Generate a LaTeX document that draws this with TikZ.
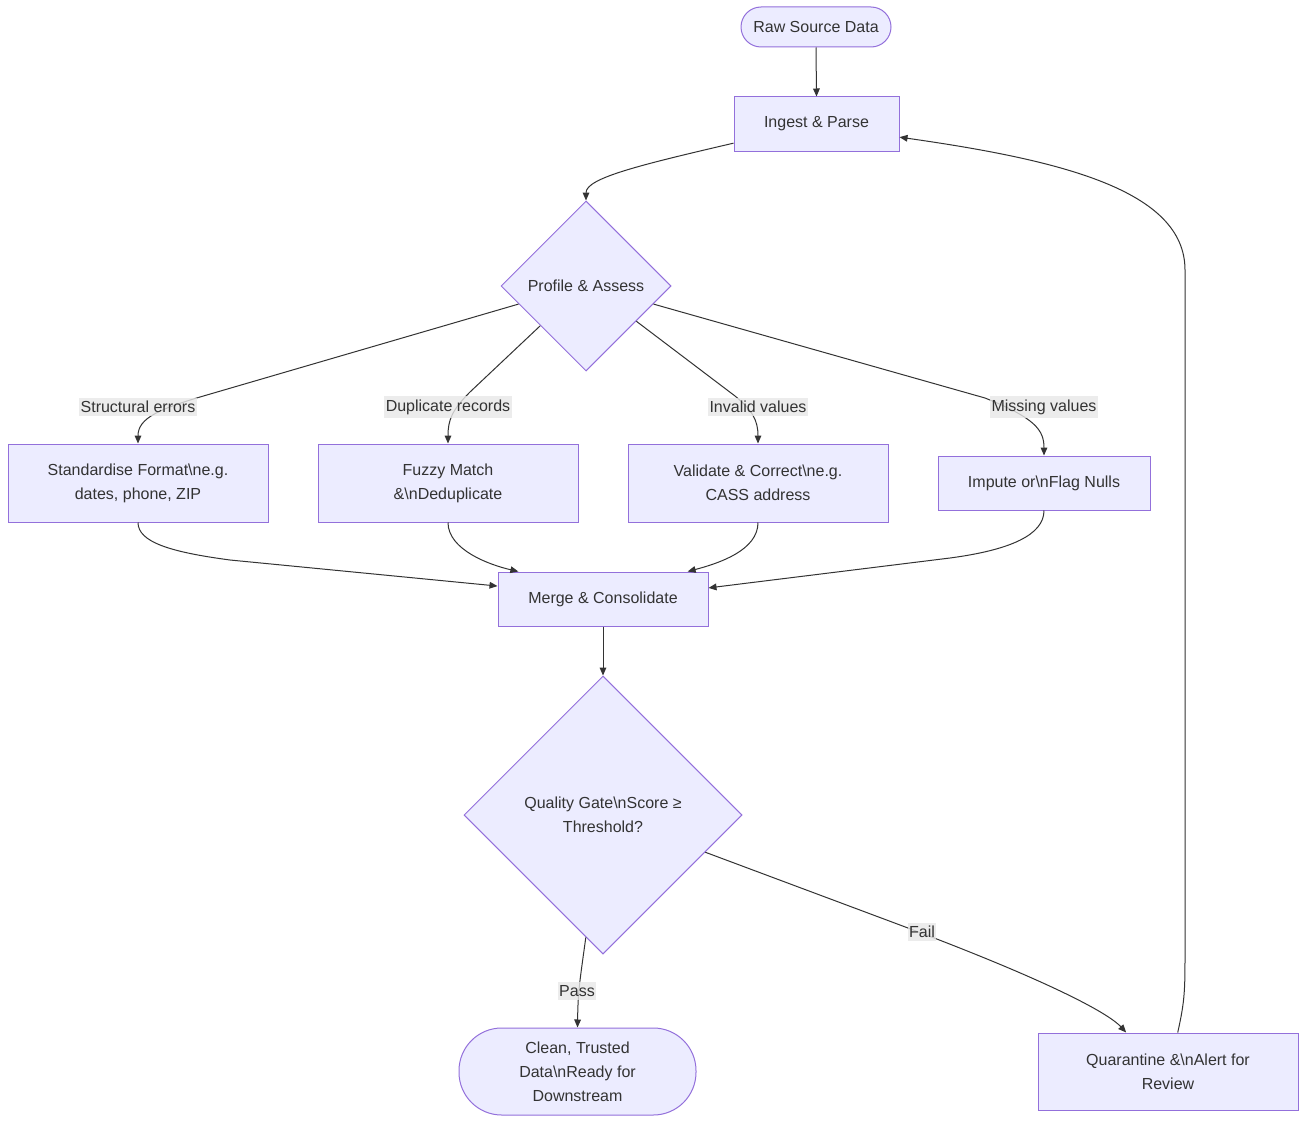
\documentclass[tikz,border=0pt]{standalone}
\usepackage{fontspec}
\setmainfont{Liberation Sans}
\usetikzlibrary{shapes.geometric,arrows.meta}
\definecolor{nodefill}{HTML}{ECECFF}
\definecolor{nodeline}{HTML}{9370DB}
\definecolor{txt}{HTML}{333333}
\definecolor{lblbg}{HTML}{E8E8E8}
\begin{document}
\begin{tikzpicture}[x=0.75pt,y=-0.75pt,
 every node/.style={font=\fontsize{12}{18}\selectfont, text=txt},
 box/.style={draw=nodeline, fill=nodefill, line width=0.75pt, rectangle, align=center, inner sep=0pt},
 dia/.style={draw=nodeline, fill=nodefill, line width=0.75pt, diamond, align=center, inner sep=0pt},
 link/.style={draw=txt, line width=0.75pt, -{Triangle[length=6pt,width=5pt]}},
 lbl/.style={fill=lblbg, fill opacity=0.8, text opacity=1, inner xsep=1pt, inner ysep=2.5pt}]
\useasboundingbox[fill=white] (0,0) rectangle (1307,1124);

\node[box, rounded corners=15pt, minimum width=112.5pt, minimum height=30pt] (raw) at (816,27) {Raw Source Data};
\node[box, minimum width=123.75pt, minimum height=40.5pt] (ingest) at (816.5,124) {Ingest \& Parse};
\node[dia, minimum width=127.5pt, minimum height=127.5pt] (profile) at (586,286) {Profile \& Assess};
\node[box, minimum width=195pt, minimum height=58.5pt] (std) at (138,483) {Standardise Format\textbackslash ne.g.\\dates, phone, ZIP};
\node[box, minimum width=195pt, minimum height=58.5pt] (fuzzy) at (448,483) {Fuzzy Match\\\&\textbackslash nDeduplicate};
\node[box, minimum width=195pt, minimum height=58.5pt] (valid) at (758,483) {Validate \& Correct\textbackslash ne.g.\\CASS address};
\node[box, minimum width=159pt, minimum height=40.5pt] (impute) at (1044,483) {Impute or\textbackslash nFlag Nulls};
\node[box, minimum width=157.5pt, minimum height=40.5pt] (merge) at (603,599) {Merge \& Consolidate};
\node[dia, minimum width=208.5pt, minimum height=208.5pt] (gate) at (603,815) {Quality Gate\textbackslash nScore ≥\\Threshold?};
\node[box, rounded corners=32pt, minimum width=177.75pt, minimum height=65.25pt] (clean) at (577.5,1071.5) {Clean, Trusted\\Data\textbackslash nReady for\\Downstream};
\node[box, minimum width=195pt, minimum height=57.75pt] (quar) at (1168,1071.5) {Quarantine \&\textbackslash nAlert for\\Review};

\draw[link] (raw.south) -- (ingest.north);
\draw[link] (ingest.193) .. controls (640,165) and (586,178) .. (profile.north);
\draw[link] (profile.195) -- (200,397) .. controls (160,409) and (138,418) .. (std.north);
\draw[link] (profile.221) -- (470,392) .. controls (452,410) and (448,420) .. (fuzzy.north);
\draw[link] (profile.325) -- (735,396) .. controls (752,410) and (758,420) .. (valid.north);
\draw[link] (profile.345) -- (985,398) .. controls (1035,418) and (1044,430) .. (impute.north);
\draw[link] (std.south) .. controls (138,542) and (170,552) .. (230,560) -- (merge.173.5);
\draw[link] (fuzzy.south) .. controls (448,550) and (490,565) .. (merge.162);
\draw[link] (valid.south) .. controls (758,550) and (720,563) .. (merge.18.4);
\draw[link] (impute.south) .. controls (1044,535) and (1010,550) .. (950,558) -- (merge.6.5);
\draw[link] (merge.south) -- (gate.north);
\draw[link] (gate.262) .. controls (580,980) and (578,990) .. (clean.north);
\draw[link] (gate.340) -- (900,925) .. controls (1060,985) and (1110,1015) .. (quar.137.5);
\draw[link] (quar.76.8) .. controls (1185,1000) and (1185,990) .. (1185,950) -- (1185,270) .. controls (1185,190) and (1060,160) .. (ingest.-9);

\node[lbl] (l1) at (138,407) {Structural errors};
\node[lbl] (l2) at (448,407) {Duplicate records};
\node[lbl] (l3) at (758,407) {Invalid values};
\node[lbl] (l4) at (1044,407) {Missing values};
\node[lbl] (l5) at (922,932) {Fail};
\node[lbl] (l6) at (577,991) {Pass};
\end{tikzpicture}
\end{document}
